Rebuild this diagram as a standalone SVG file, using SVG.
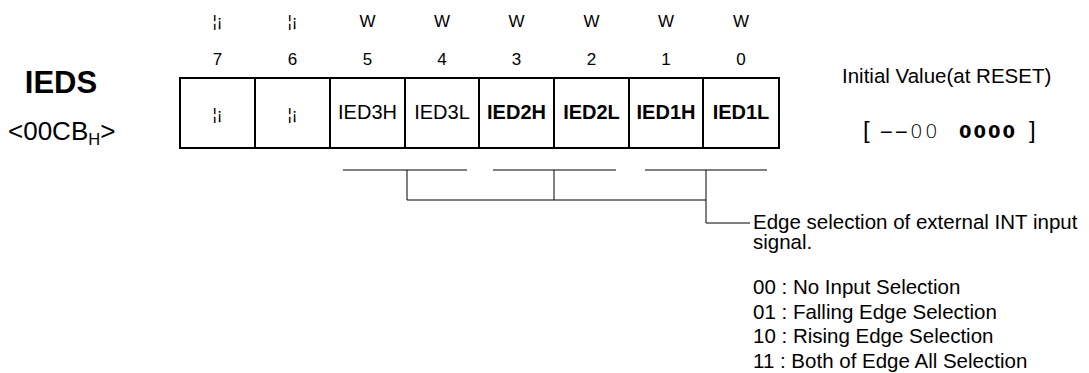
<svg xmlns="http://www.w3.org/2000/svg" width="1089" height="373" viewBox="0 0 1089 373">
<style>
text{font-family:"Liberation Sans",Arial,sans-serif;fill:#000}
.acc{font-size:17px;text-anchor:middle}
.cell{font-size:20px;text-anchor:middle}
.b{font-weight:bold}
.desc{font-size:20.5px}
.dj{font-family:"DejaVu Sans",sans-serif}
.box{fill:none;stroke:#000;stroke-width:2}
.ln{fill:none;stroke:#000;stroke-width:1}
</style>
<rect width="1089" height="373" fill="#fff"/>
<g id="title">
<text x="61" y="93" style="font-size:31px;font-weight:bold;text-anchor:middle">IEDS</text>
<text x="8" y="140" style="font-size:26px">&lt;00CB<tspan style="font-size:16.5px" dy="5">H</tspan><tspan dy="-5">&gt;</tspan></text>
</g>
<g id="access">
<text class="acc" x="217.5" y="27">¦¡</text>
<text class="acc" x="292.5" y="27">¦¡</text>
<text class="acc" x="367.5" y="27">W</text>
<text class="acc" x="442" y="27">W</text>
<text class="acc" x="516.5" y="27">W</text>
<text class="acc" x="591.5" y="27">W</text>
<text class="acc" x="666" y="27">W</text>
<text class="acc" x="741" y="27">W</text>
</g>
<g id="bits">
<text class="acc" x="217.5" y="65">7</text>
<text class="acc" x="292.5" y="65">6</text>
<text class="acc" x="367.5" y="65">5</text>
<text class="acc" x="442" y="65">4</text>
<text class="acc" x="516.5" y="65">3</text>
<text class="acc" x="591.5" y="65">2</text>
<text class="acc" x="666" y="65">1</text>
<text class="acc" x="741" y="65">0</text>
</g>
<g id="register">
<rect class="box" x="180" y="78" width="599" height="70"/>
<path class="box" d="M255 78V148M330 78V148M405 78V148M479 78V148M554 78V148M629 78V148M703 78V148"/>
<text class="acc" x="217.5" y="120">¦¡</text>
<text class="acc" x="292.5" y="120">¦¡</text>
<text class="cell" x="367.5" y="119">IED3H</text>
<text class="cell" x="442" y="119">IED3L</text>
<text class="cell b" x="516.5" y="119">IED2H</text>
<text class="cell b" x="591.5" y="119">IED2L</text>
<text class="cell b" x="666" y="119">IED1H</text>
<text class="cell b" x="741" y="119">IED1L</text>
</g>
<g id="initial">
<text class="desc" x="842" y="83">Initial Value(at RESET)</text>
<text x="863" y="138" style="font-size:24px">[</text>
<text x="0 6.8" y="0" transform="matrix(2.2 0 0 1 879 138)" style="font-size:20px;font-weight:normal">--</text>
<text class="dj" x="910 925" y="138" style="font-size:20px;font-weight:200">00</text>
<text class="dj" x="959 973.5 988 1002.5" y="138" style="font-size:18px;font-weight:bold">0000</text>
<text x="1029" y="138" style="font-size:24px">]</text>
</g>
<g id="connectors">
<path class="ln" d="M343 170H467M493 170H616M645 170H767"/>
<path class="ln" d="M407 170V200H706M554 170V200M706 170V223H750"/>
</g>
<g id="description">
<text class="desc" x="753" y="229">Edge selection of external INT input</text>
<text class="desc" x="753" y="249">signal.</text>
<text class="desc" x="753" y="294">00 : No Input Selection</text>
<text class="desc" x="753" y="318.5">01 : Falling Edge Selection</text>
<text class="desc" x="753" y="343">10 : Rising Edge Selection</text>
<text class="desc" x="753" y="367.5">11 : Both of Edge All Selection</text>
</g>
</svg>
